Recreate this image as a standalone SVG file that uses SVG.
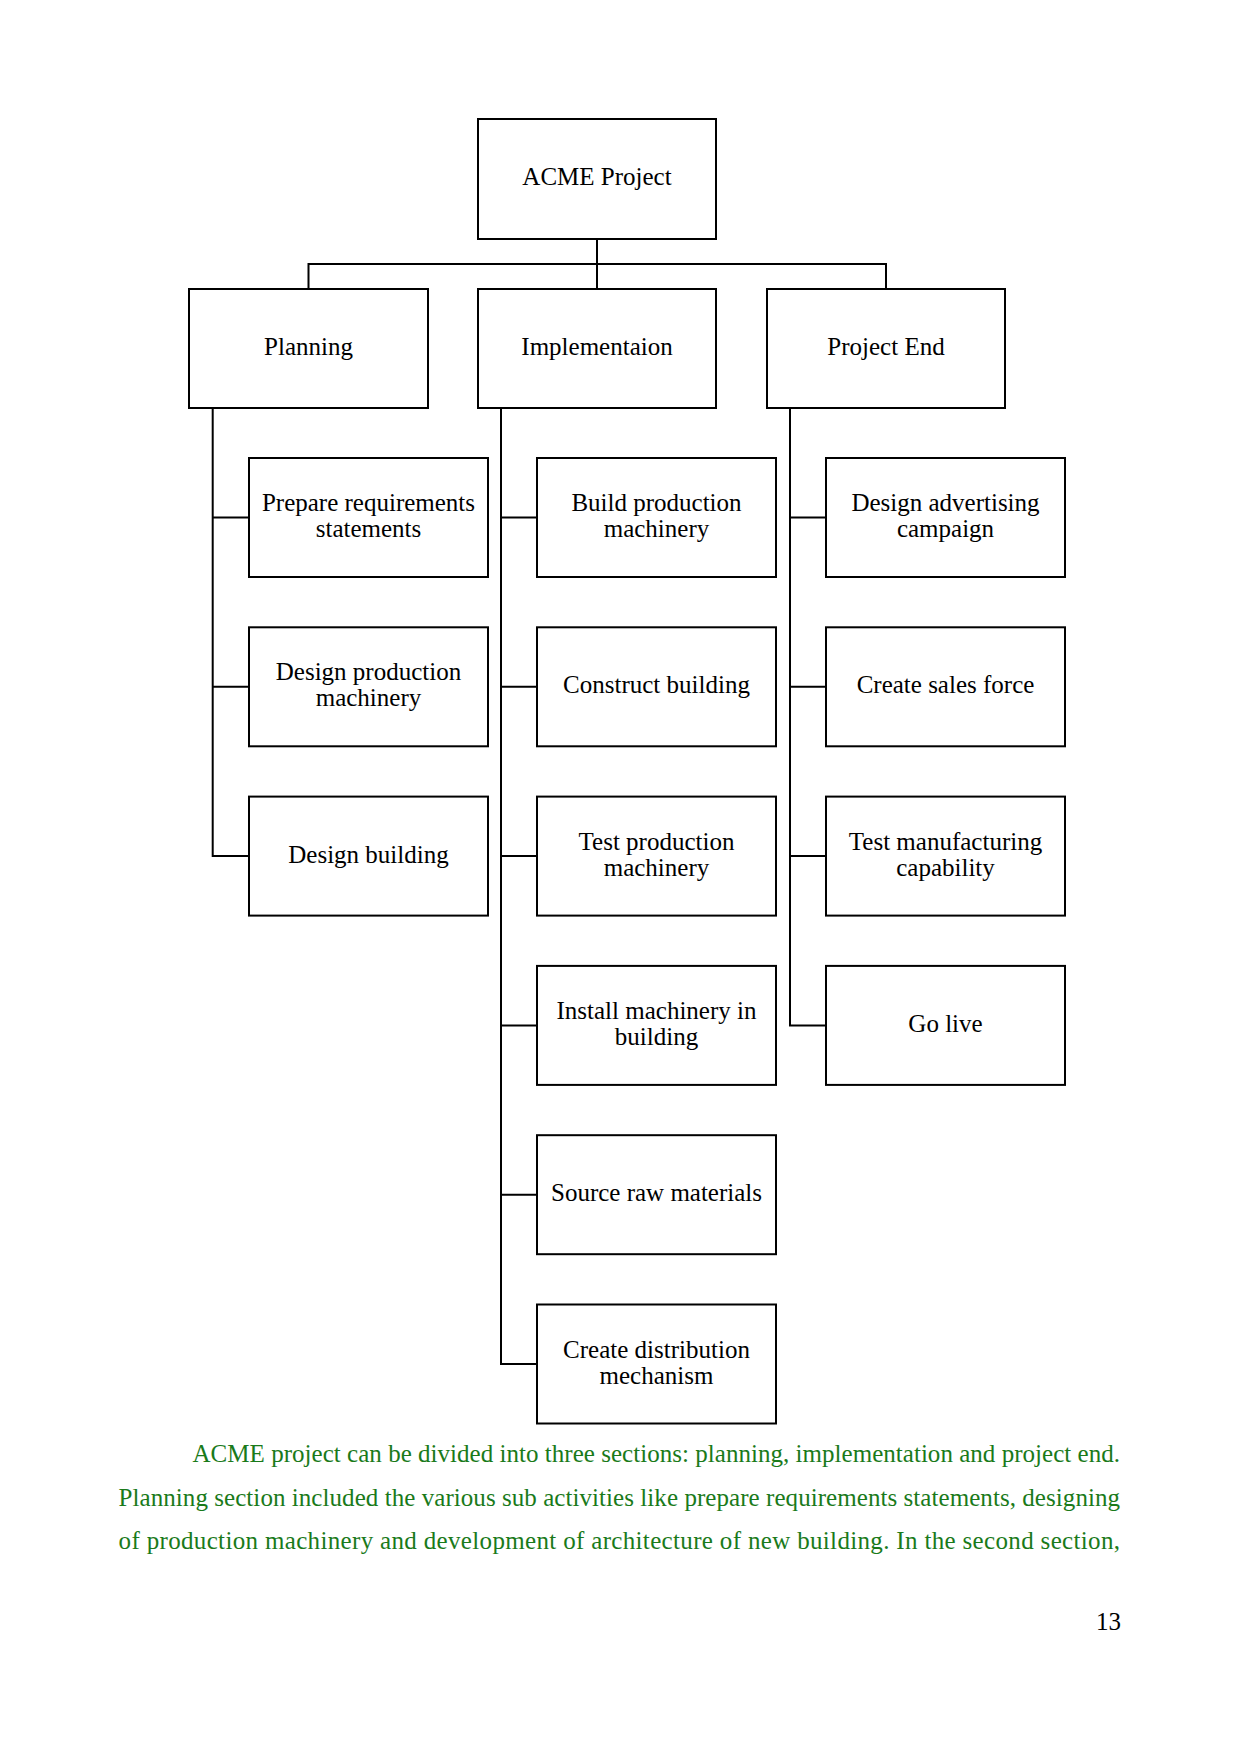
<svg xmlns="http://www.w3.org/2000/svg" width="1241" height="1754" viewBox="0 0 1241 1754">
<style>
.box{fill:#fff;stroke:#000;stroke-width:2}
.lbl{font-family:"Liberation Serif","Times New Roman",serif;font-size:25px;fill:#000;text-anchor:middle}
.con{fill:none;stroke:#000;stroke-width:2}
.para{font-family:"Liberation Serif","Times New Roman",serif;font-size:25px;fill:#1a7a1a}
.pg{font-family:"Liberation Serif","Times New Roman",serif;font-size:25px;fill:#000}
</style>
<rect width="1241" height="1754" fill="#fff"/>
<g id="connectors">
<path class="con" d="M597 239V289M308.5 289V264H886V289"/>
<path class="con" d="M212.7 408V856.1H249M212.7 517.5H249M212.7 686.8H249"/>
<path class="con" d="M501 408V1364H537M501 517.5H537M501 686.8H537M501 856.1H537M501 1025.4H537M501 1194.7H537"/>
<path class="con" d="M790 408V1025.4H826M790 517.5H826M790 686.8H826M790 856.1H826"/>
</g>
<g id="acme"><rect class="box" x="478" y="119" width="238" height="120"/><text class="lbl" x="597" y="185">ACME Project</text></g>
<g id="planning"><rect class="box" x="189" y="289" width="239" height="119"/><text class="lbl" x="308.5" y="355">Planning</text></g>
<g id="implementation"><rect class="box" x="478" y="289" width="238" height="119"/><text class="lbl" x="597" y="355">Implementaion</text></g>
<g id="projectend"><rect class="box" x="767" y="289" width="238" height="119"/><text class="lbl" x="886" y="355">Project End</text></g>

<g id="p1"><rect class="box" x="249" y="458" width="239" height="119"/><text class="lbl" x="368.5" y="511">Prepare requirements</text><text class="lbl" x="368.5" y="537">statements</text></g>
<g id="p2"><rect class="box" x="249" y="627.3" width="239" height="119"/><text class="lbl" x="368.5" y="680.3">Design production</text><text class="lbl" x="368.5" y="706.3">machinery</text></g>
<g id="p3"><rect class="box" x="249" y="796.6" width="239" height="119"/><text class="lbl" x="368.5" y="862.6">Design building</text></g>

<g id="i1"><rect class="box" x="537" y="458" width="239" height="119"/><text class="lbl" x="656.5" y="511">Build production</text><text class="lbl" x="656.5" y="537">machinery</text></g>
<g id="i2"><rect class="box" x="537" y="627.3" width="239" height="119"/><text class="lbl" x="656.5" y="693.3">Construct building</text></g>
<g id="i3"><rect class="box" x="537" y="796.6" width="239" height="119"/><text class="lbl" x="656.5" y="849.6">Test production</text><text class="lbl" x="656.5" y="875.6">machinery</text></g>
<g id="i4"><rect class="box" x="537" y="965.9" width="239" height="119"/><text class="lbl" x="656.5" y="1018.9">Install machinery in</text><text class="lbl" x="656.5" y="1044.9">building</text></g>
<g id="i5"><rect class="box" x="537" y="1135.2" width="239" height="119"/><text class="lbl" x="656.5" y="1201.2">Source raw materials</text></g>
<g id="i6"><rect class="box" x="537" y="1304.5" width="239" height="119"/><text class="lbl" x="656.5" y="1357.5">Create distribution</text><text class="lbl" x="656.5" y="1383.5">mechanism</text></g>

<g id="e1"><rect class="box" x="826" y="458" width="239" height="119"/><text class="lbl" x="945.5" y="511">Design advertising</text><text class="lbl" x="945.5" y="537">campaign</text></g>
<g id="e2"><rect class="box" x="826" y="627.3" width="239" height="119"/><text class="lbl" x="945.5" y="693.3">Create sales force</text></g>
<g id="e3"><rect class="box" x="826" y="796.6" width="239" height="119"/><text class="lbl" x="945.5" y="849.6">Test manufacturing</text><text class="lbl" x="945.5" y="875.6">capability</text></g>
<g id="e4"><rect class="box" x="826" y="965.9" width="239" height="119"/><text class="lbl" x="945.5" y="1031.9">Go live</text></g>

<g id="paragraph">
<text class="para" x="192.5" y="1462" textLength="927.5" lengthAdjust="spacing">ACME project can be divided into three sections: planning, implementation and project end.</text>
<text class="para" x="118.6" y="1505.5" textLength="1001.4" lengthAdjust="spacing">Planning section included the various sub activities like prepare requirements statements, designing</text>
<text class="para" x="118.6" y="1548.5" textLength="1001.4" lengthAdjust="spacing">of production machinery and development of architecture of new building. In the second section,</text>
</g>
<text class="pg" x="1121" y="1630" text-anchor="end">13</text>
</svg>
